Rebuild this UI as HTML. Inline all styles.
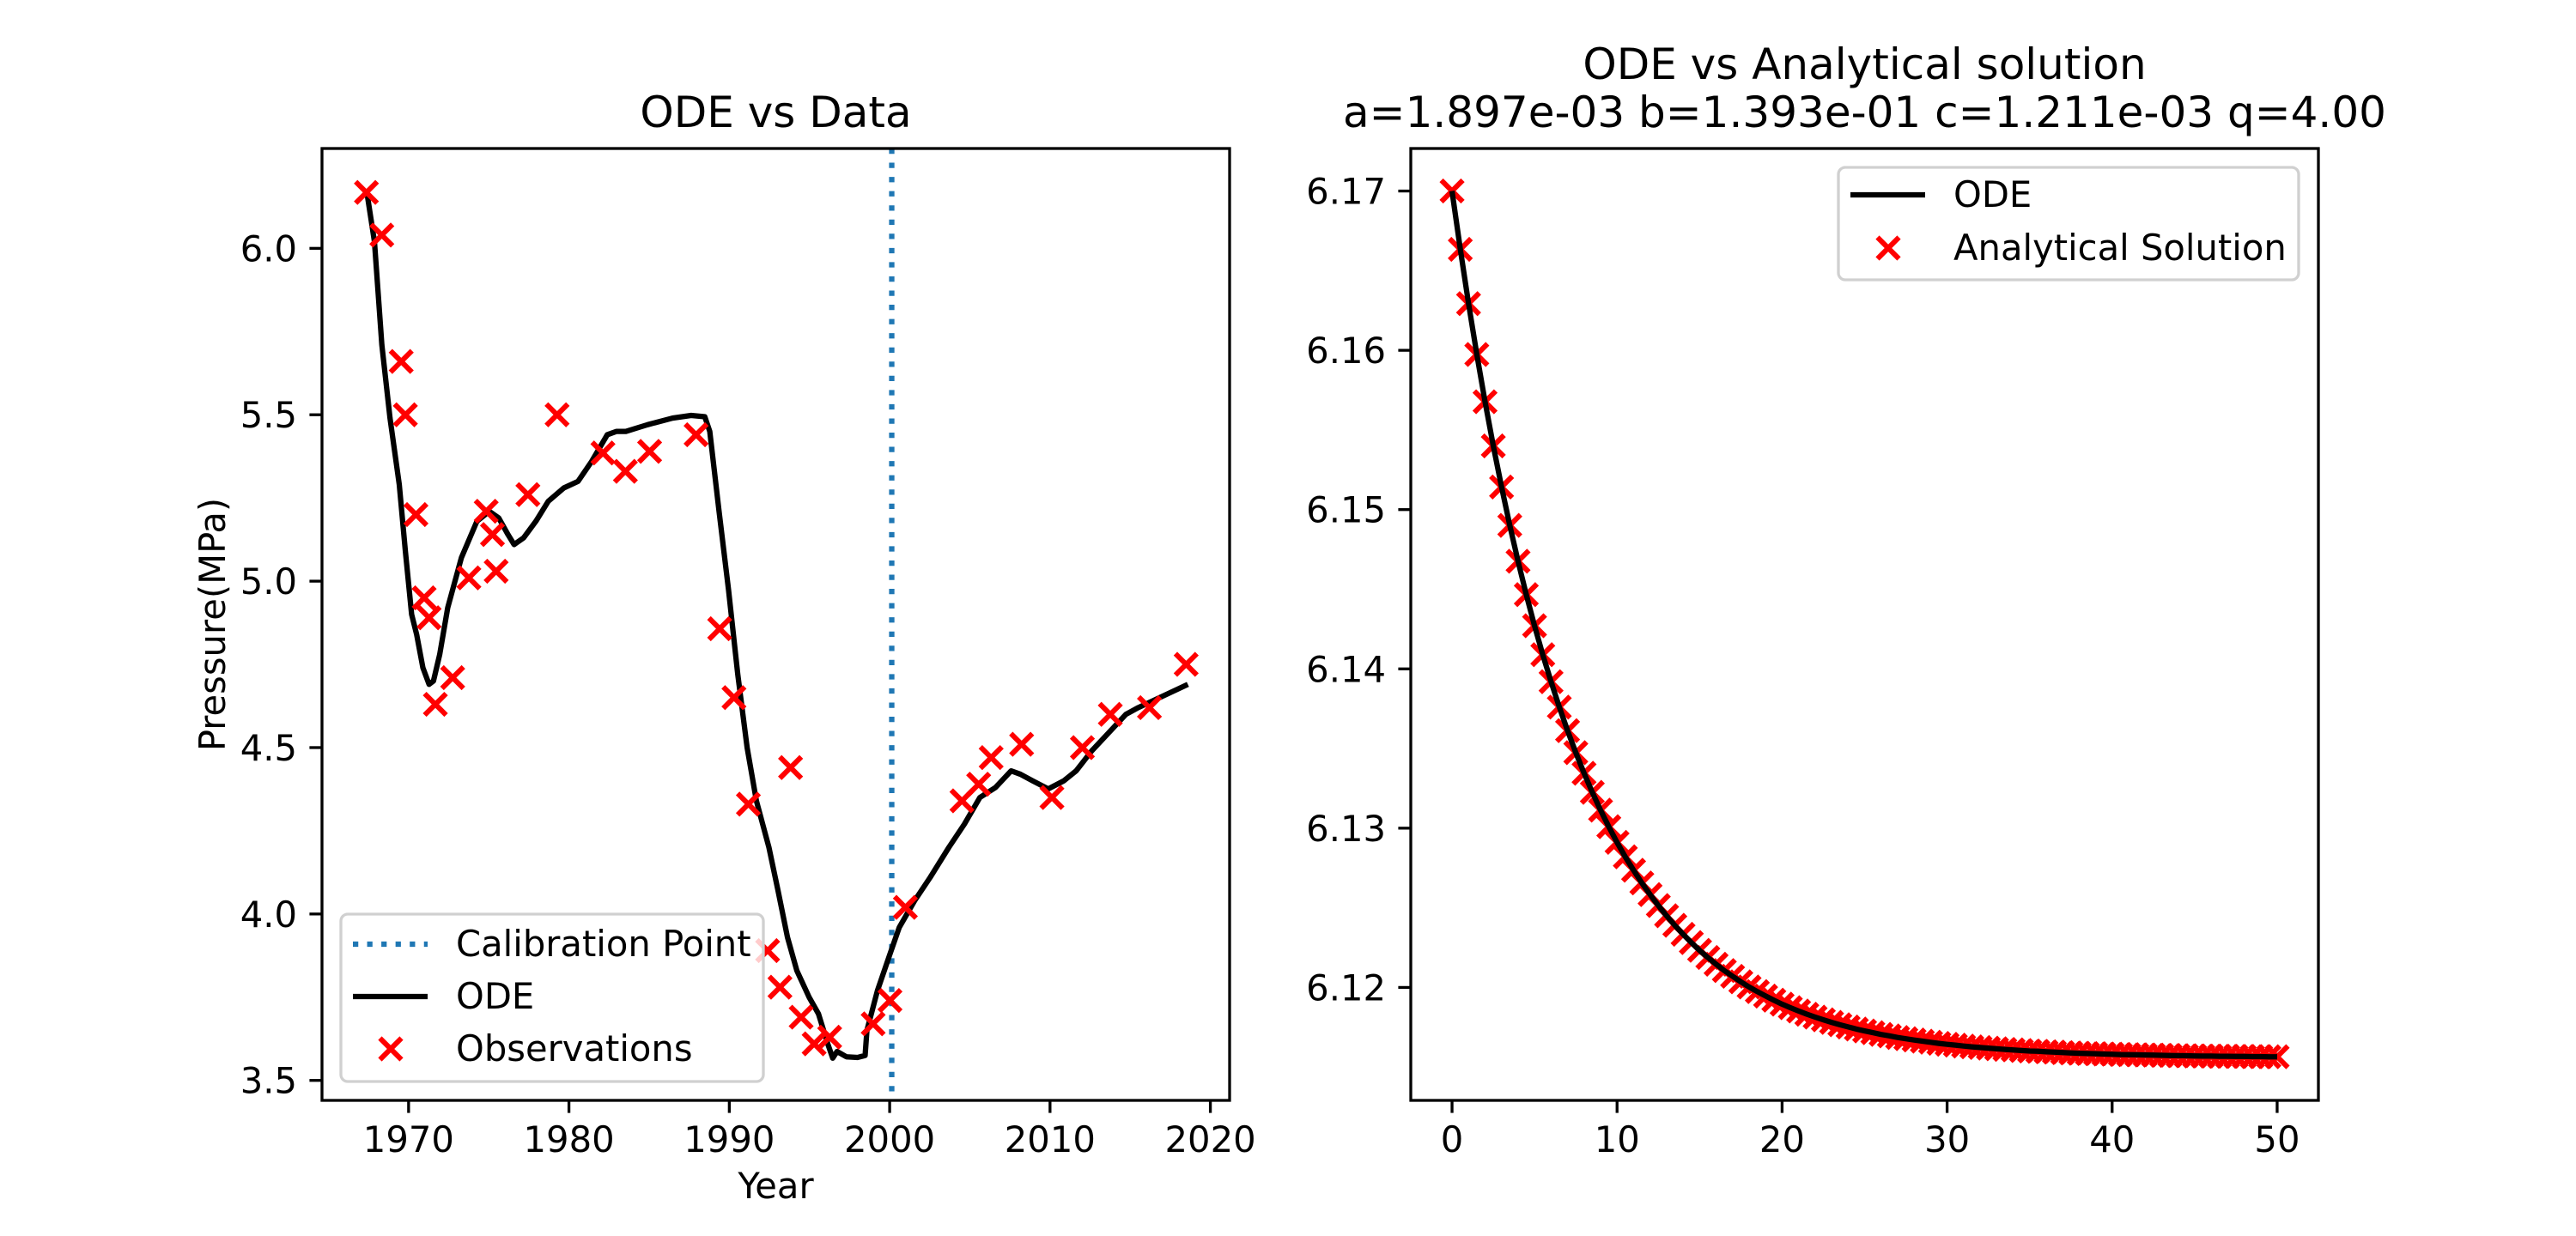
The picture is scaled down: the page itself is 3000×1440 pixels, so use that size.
<!DOCTYPE html>
<html><head><meta charset="utf-8"><style>
html,body{margin:0;padding:0;background:#fff;}
svg{display:block;font-family:"DejaVu Sans","Liberation Sans",sans-serif;}
</style></head><body>
<svg id="fig" width="3000" height="1440" viewBox="0 0 3000 1440" xmlns="http://www.w3.org/2000/svg">
<rect width="3000" height="1440" fill="#fff"/>
<g id="left"></g>
<g id="right"></g>
</svg>
<script>
// ---- Left chart data ----
const obsYears = [1967.37,1968.33,1969.54,1969.8,1970.46,1970.97,1971.28,1971.67,1972.75,1973.76,1974.84,1975.23,1975.46,1977.44,1979.26,1982.12,1983.52,1985.03,1987.93,1989.4,1990.29,1991.19,1992.39,1993.16,1993.82,1994.48,1995.29,1996.26,1998.97,2000.02,2000.98,2004.51,2005.55,2006.33,2008.23,2010.12,2012.02,2013.76,2016.2,2018.49];
const obsPressure = [6.168,6.04,5.66,5.5,5.2,4.95,4.89,4.63,4.71,5.01,5.21,5.14,5.03,5.26,5.5,5.385,5.33,5.39,5.44,4.857,4.65,4.33,3.89,3.78,4.44,3.69,3.61,3.63,3.67,3.74,4.02,4.34,4.39,4.47,4.51,4.35,4.5,4.6,4.62,4.75];
const odeYears = [1967.37,1967.87,1968.33,1968.84,1969.42,1969.8,1970.19,1970.5,1970.89,1971.28,1971.55,1971.94,1972.44,1973.29,1974.26,1975.03,1975.62,1976.2,1976.58,1977.17,1977.94,1978.71,1979.68,1980.57,1981.42,1982.39,1982.97,1983.55,1984.9,1986.46,1987.62,1988.47,1988.78,1989.36,1989.95,1990.53,1991.11,1991.69,1992.47,1993.04,1993.63,1994.21,1994.98,1995.56,1996.14,1996.45,1996.72,1997.3,1998.0,1998.47,1998.58,1999.24,2000.02,2000.6,2001.56,2002.53,2003.69,2004.66,2005.63,2006.6,2007.57,2008.15,2008.92,2009.89,2010.86,2011.63,2012.6,2013.57,2014.73,2015.5,2018.6];
const odePressure = [6.178,6.02,5.71,5.49,5.29,5.09,4.9,4.84,4.74,4.69,4.7,4.78,4.92,5.07,5.18,5.21,5.19,5.14,5.11,5.13,5.18,5.24,5.28,5.3,5.36,5.44,5.45,5.45,5.47,5.49,5.498,5.494,5.45,5.21,4.975,4.72,4.5,4.34,4.2,4.07,3.93,3.83,3.75,3.7,3.61,3.567,3.587,3.571,3.569,3.575,3.65,3.77,3.88,3.96,4.04,4.11,4.2,4.27,4.35,4.38,4.43,4.42,4.4,4.376,4.4,4.43,4.49,4.54,4.6,4.62,4.69];
const calibrationYear = 2000.13;
const leftXTicks = [1970,1980,1990,2000,2010,2020];
const leftYTicks = [3.5,4.0,4.5,5.0,5.5,6.0];

// ---- Right chart data ----
const analyticP = [6.17000,6.16634,6.16293,6.15974,6.15677,6.15400,6.15142,6.14901,6.14676,6.14466,6.14271,6.14089,6.13919,6.13760,6.13612,6.13474,6.13345,6.13225,6.13113,6.13009,6.12911,6.12820,6.12736,6.12656,6.12583,6.12514,6.12450,6.12390,6.12334,6.12282,6.12233,6.12188,6.12146,6.12106,6.12070,6.12035,6.12003,6.11974,6.11946,6.11920,6.11895,6.11873,6.11852,6.11832,6.11814,6.11797,6.11781,6.11766,6.11752,6.11739,6.11727,6.11716,6.11705,6.11696,6.11686,6.11678,6.11670,6.11663,6.11656,6.11649,6.11643,6.11638,6.11632,6.11627,6.11623,6.11619,6.11615,6.11611,6.11608,6.11604,6.11601,6.11599,6.11596,6.11594,6.11591,6.11589,6.11587,6.11585,6.11584,6.11582,6.11581,6.11579,6.11578,6.11577,6.11576,6.11575,6.11574,6.11573,6.11572,6.11571,6.11570,6.11569,6.11569,6.11568,6.11568,6.11567,6.11567,6.11566,6.11566,6.11565,6.11565];
const analyticStep = 0.5;
const rightXTicks = [0,10,20,30,40,50];
const rightYTicks = [6.12,6.13,6.14,6.15,6.16,6.17];

const NS = "http://www.w3.org/2000/svg";
function mk(parent, tag, attrs, text){
  const e = document.createElementNS(NS, tag);
  for (const k in attrs) e.setAttribute(k, attrs[k]);
  if (text !== undefined) e.textContent = text;
  parent.appendChild(e);
  return e;
}
function cross(g, cx, cy, name){
  const s = 12.5;
  const p = mk(g, 'path', {d:`M${cx-s},${cy-s}L${cx+s},${cy+s}M${cx-s},${cy+s}L${cx+s},${cy-s}`, stroke:'#ff0000', 'stroke-width':6, fill:'none'});
  
  
  return p;
}

// ===== LEFT =====
(function(){
  const g = document.getElementById('left');
  const L=375,R=1432,T=173,B=1282;
  const x0=1964.6,x1=2021.2,y0=3.44,y1=6.30;
  const sx = v => L + (v-x0)/(x1-x0)*(R-L);
  const sy = v => B - (v-y0)/(y1-y0)*(B-T);
  const cl = mk(g,'line',{x1:sx(calibrationYear),x2:sx(calibrationYear),y1:T,y2:B,stroke:'#1f77b4','stroke-width':6.25,'stroke-dasharray':'6.25,10.3'});
  
  
  const d = odeYears.map((y,i)=>(i?'L':'M')+sx(y).toFixed(1)+','+sy(odePressure[i]).toFixed(1)).join('');
  const ol = mk(g,'path',{d:d,stroke:'#000',fill:'none','stroke-width':6.25,'stroke-linejoin':'round'});
  
  
  obsYears.forEach((y,i)=>{ cross(g, sx(y), sy(obsPressure[i]), 'observation-point'); });
  const fr = mk(g,'rect',{x:L,y:T,width:R-L,height:B-T,fill:'none',stroke:'#000','stroke-width':3.3});
  
  
  leftXTicks.forEach(t=>{
    mk(g,'line',{x1:sx(t),x2:sx(t),y1:B,y2:B+14.6,stroke:'#000','stroke-width':3.3});
    const tx = mk(g,'text',{x:sx(t),y:1342,'font-size':41.7,'text-anchor':'middle'},String(t));
    
    
  });
  leftYTicks.forEach(t=>{
    mk(g,'line',{x1:L-14.6,x2:L,y1:sy(t),y2:sy(t),stroke:'#000','stroke-width':3.3});
    const tx = mk(g,'text',{x:346,y:sy(t)+15,'font-size':41.7,'text-anchor':'end'},t.toFixed(1));
    
    
  });
  const title = mk(g,'text',{x:(L+R)/2,y:148,'font-size':50,'text-anchor':'middle'},'ODE vs Data');
  
  
  const xl = mk(g,'text',{x:(L+R)/2,y:1396,'font-size':41.7,'text-anchor':'middle'},'Year');
  
  
  const yl = mk(g,'text',{x:0,y:0,'font-size':41.7,'text-anchor':'middle',transform:`translate(262,${(T+B)/2}) rotate(-90)`},'Pressure(MPa)');
  
  
  const lg = mk(g,'g',{});
  
  
  mk(lg,'rect',{x:397,y:1065,width:492,height:195,rx:8,fill:'#fff','fill-opacity':0.8,stroke:'#d0d0d0','stroke-width':3.3});
  mk(lg,'line',{x1:411,x2:498,y1:1100,y2:1100,stroke:'#1f77b4','stroke-width':6.25,'stroke-dasharray':'6.25,10.3'});
  const t1 = mk(lg,'text',{x:531,y:1114,'font-size':41.7},'Calibration Point');
  
  
  mk(lg,'line',{x1:411,x2:498,y1:1161,y2:1161,stroke:'#000','stroke-width':6.25});
  const t2 = mk(lg,'text',{x:531,y:1175,'font-size':41.7},'ODE');
  
  
  cross(lg,455,1222,'legend-marker-observations');
  const t3 = mk(lg,'text',{x:531,y:1236,'font-size':41.7},'Observations');
  
  
})();

// ===== RIGHT =====
(function(){
  const g = document.getElementById('right');
  const L=1643,R=2700,T=173,B=1282;
  const x0=-2.5,x1=52.5,y0=6.11291,y1=6.17267;
  const sx = v => L + (v-x0)/(x1-x0)*(R-L);
  const sy = v => B - (v-y0)/(y1-y0)*(B-T);
  analyticP.forEach((p,i)=>{ cross(g, sx(i*analyticStep), sy(p), 'analytical-point'); });
  const d = analyticP.map((p,i)=>(i?'L':'M')+sx(i*analyticStep).toFixed(1)+','+sy(p).toFixed(1)).join('');
  const ol = mk(g,'path',{d:d,stroke:'#000',fill:'none','stroke-width':6.25,'stroke-linejoin':'round'});
  
  
  const fr = mk(g,'rect',{x:L,y:T,width:R-L,height:B-T,fill:'none',stroke:'#000','stroke-width':3.3});
  
  
  rightXTicks.forEach(t=>{
    mk(g,'line',{x1:sx(t),x2:sx(t),y1:B,y2:B+14.6,stroke:'#000','stroke-width':3.3});
    const tx = mk(g,'text',{x:sx(t),y:1342,'font-size':41.7,'text-anchor':'middle'},String(t));
    
    
  });
  rightYTicks.forEach(t=>{
    mk(g,'line',{x1:L-14.6,x2:L,y1:sy(t),y2:sy(t),stroke:'#000','stroke-width':3.3});
    const tx = mk(g,'text',{x:1614,y:sy(t)+15,'font-size':41.7,'text-anchor':'end'},t.toFixed(2));
    
    
  });
  const t1 = mk(g,'text',{x:(L+R)/2,y:92,'font-size':50,'text-anchor':'middle'},'ODE vs Analytical solution');
  
  
  const t2 = mk(g,'text',{x:(L+R)/2,y:148,'font-size':50,'text-anchor':'middle'},'a=1.897e-03 b=1.393e-01 c=1.211e-03 q=4.00');
  
  
  const lg = mk(g,'g',{});
  
  
  mk(lg,'rect',{x:2141,y:195,width:536,height:131,rx:8,fill:'#fff','fill-opacity':0.8,stroke:'#d0d0d0','stroke-width':3.3});
  mk(lg,'line',{x1:2155,x2:2242,y1:227,y2:227,stroke:'#000','stroke-width':6.25});
  const l1 = mk(lg,'text',{x:2275,y:241,'font-size':41.7},'ODE');
  
  
  cross(lg,2199,289,'legend-marker-analytical');
  const l2 = mk(lg,'text',{x:2275,y:303,'font-size':41.7},'Analytical Solution');
  
  
})();
</script>
</body></html>
